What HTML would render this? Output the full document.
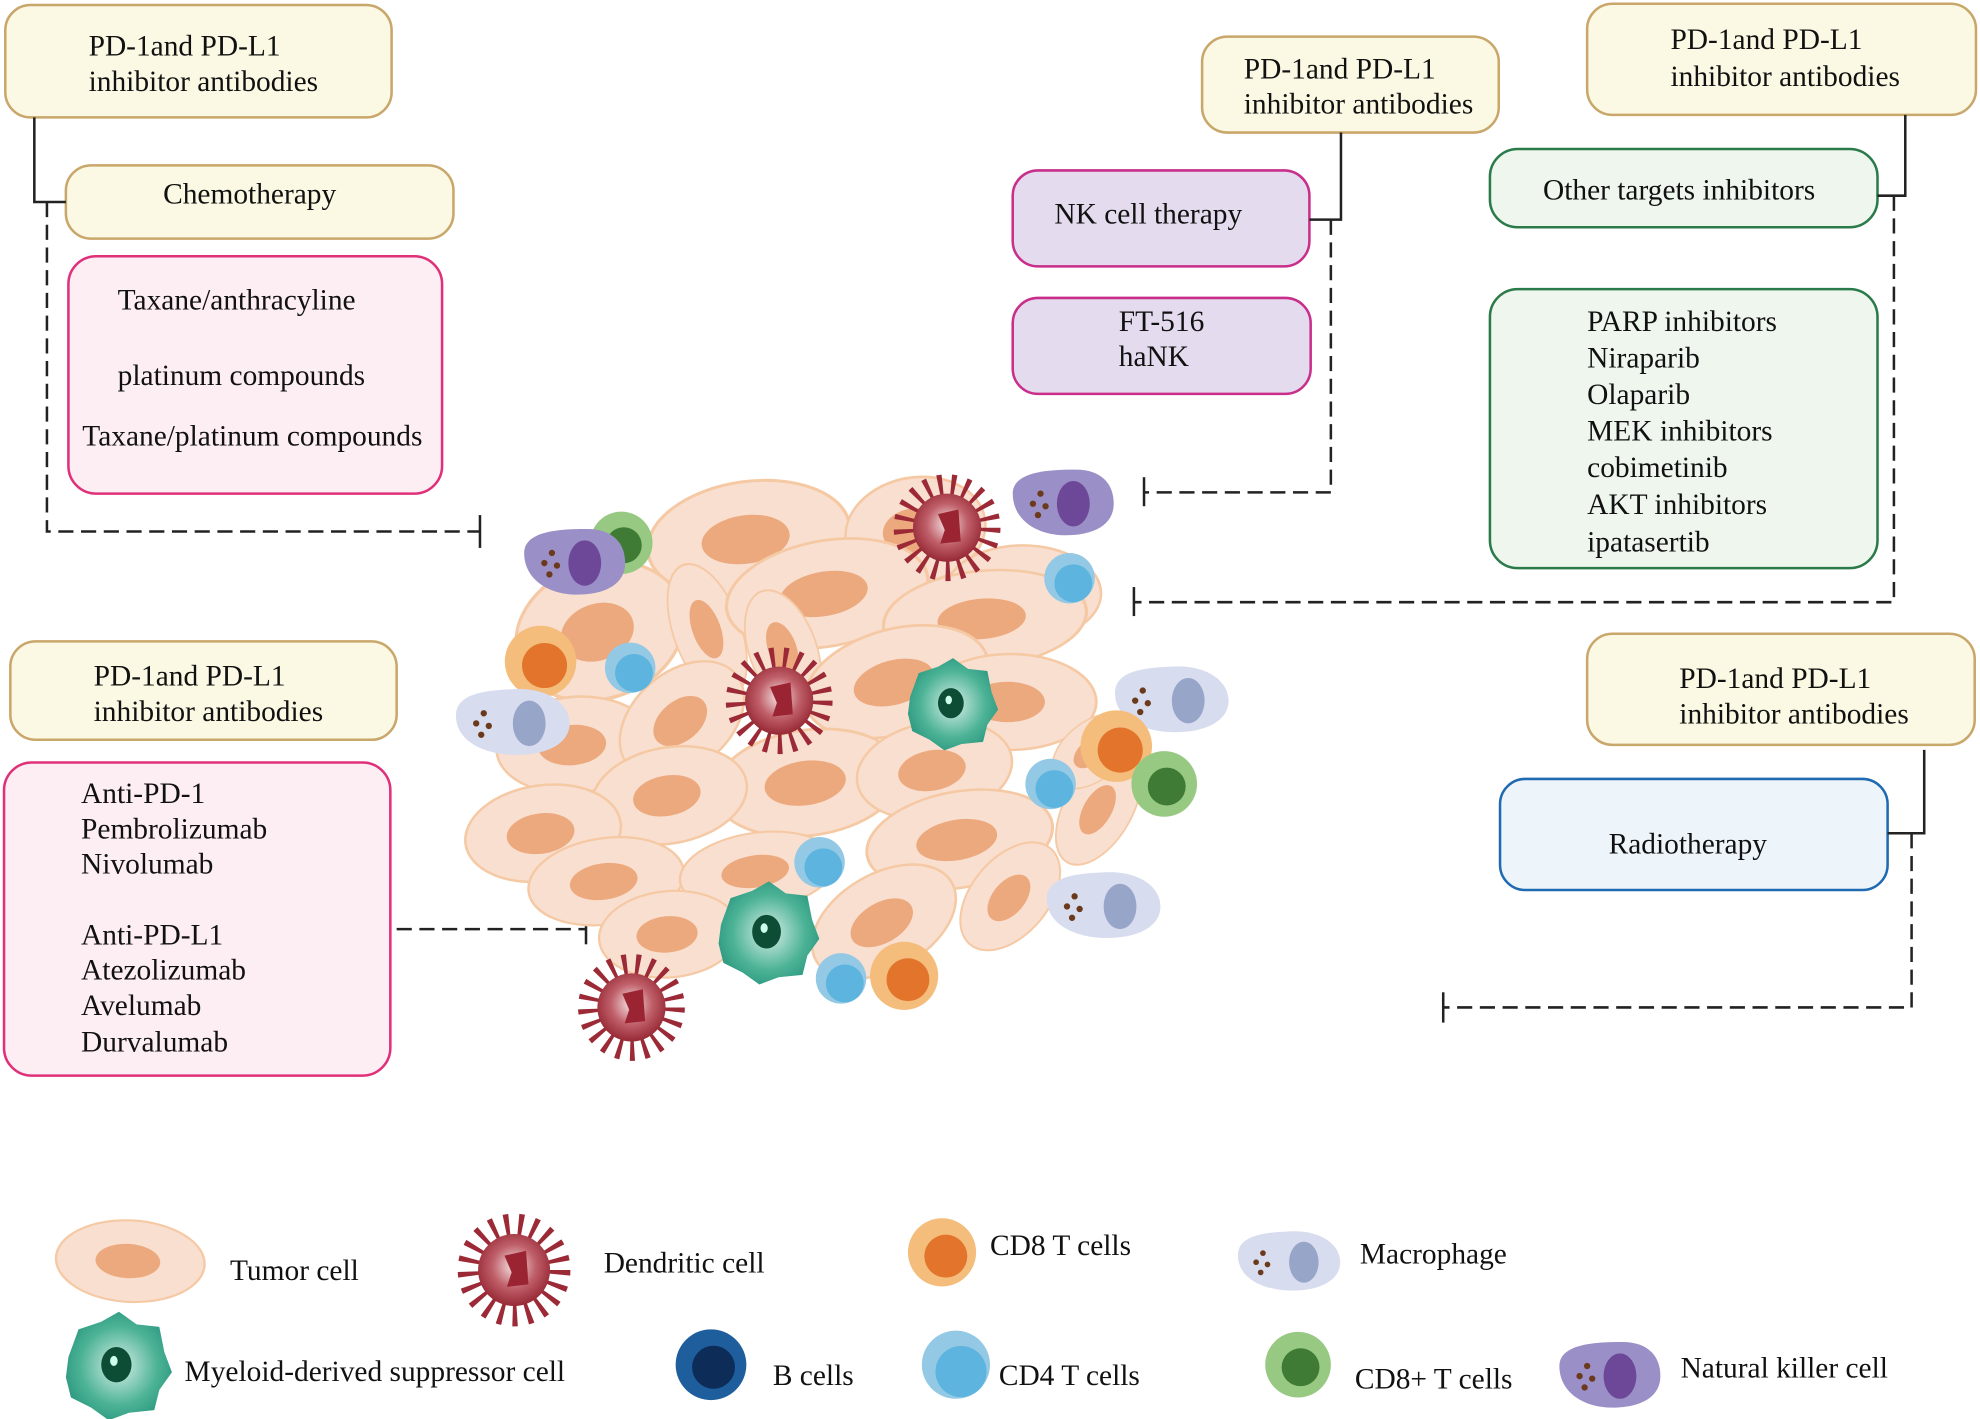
<!DOCTYPE html>
<html><head><meta charset="utf-8"><style>
html,body{margin:0;padding:0;background:#fff;}
svg{display:block;}
text{font-family:"Liberation Serif",serif;font-size:23.3px;fill:#111;}
</style></head><body>
<svg width="1980" height="1419" viewBox="0 0 1568 1124" xmlns="http://www.w3.org/2000/svg">
<defs>
<radialGradient id="dg" cx="0.5" cy="0.45" r="0.6"><stop offset="0" stop-color="#f6e6e6"/><stop offset="0.5" stop-color="#c0606a"/><stop offset="1" stop-color="#8e1e2a"/></radialGradient>
<radialGradient id="mg" cx="0.5" cy="0.5" r="0.6"><stop offset="0" stop-color="#d8efe8"/><stop offset="0.6" stop-color="#4db396"/><stop offset="1" stop-color="#23917a"/></radialGradient>
<g id="tumor"><ellipse cx="0" cy="0" rx="62" ry="38" fill="#f9dfd0" stroke="#f5c9a4" stroke-width="2"/><ellipse cx="-2" cy="0" rx="27" ry="16" fill="#eda97e"/></g>
<g id="dend">
<circle r="30" fill="none" stroke="#9b2a36" stroke-width="34" stroke-dasharray="3 6"/>
<circle r="30" fill="url(#dg)"/>
<path d="M-8,-12 L10,-16 L12,12 L-6,14 L-2,2 Z" fill="#9b2432"/>
</g>
<g id="mdsc"><path d="M-38,-6 L-30,-28 L-12,-34 L2,-42 L16,-32 L34,-30 L38,-10 L44,6 L34,20 L30,36 L10,38 L-6,44 L-20,34 L-36,26 L-40,10 Z" fill="url(#mg)"/><ellipse rx="12" ry="14" fill="#0d4d36"/><ellipse cx="-2" cy="-3" rx="3" ry="4" fill="#cfe"/></g>
<g id="cd8"><circle r="27" fill="#f4bd7c"/><circle cx="3" cy="3" r="17" fill="#e2742c"/></g>
<g id="cd4"><circle r="20" fill="#93c9e4"/><circle cx="3" cy="4" r="15" fill="#5db4df"/></g>
<g id="bc"><circle r="28" fill="#1e5e9c"/><circle cx="2" cy="2" r="17" fill="#0d2c58"/></g>
<g id="cd8p"><circle r="26" fill="#97c983"/><circle cx="2" cy="2" r="15" fill="#3f7b34"/></g>
<g id="mac"><path d="M-44,-4 C-44,-22 -20,-24 0,-25 C28,-27 46,-14 46,2 C46,18 28,27 4,27 C-22,27 -44,16 -44,-4Z" fill="#d8dcef"/><ellipse cx="14" cy="2" rx="13" ry="18" fill="#97a5c9"/><circle cx="-22" cy="-6" r="2.5" fill="#6b3a1c"/><circle cx="-28" cy="2" r="2.5" fill="#6b3a1c"/><circle cx="-18" cy="4" r="2.5" fill="#6b3a1c"/><circle cx="-24" cy="11" r="2.5" fill="#6b3a1c"/></g>
<g id="nk"><path d="M-40,-6 C-40,-24 -10,-25 10,-25 C30,-25 40,-14 40,2 C40,20 22,27 2,27 C-22,27 -40,14 -40,-6Z" fill="#9a8fc6"/><ellipse cx="8" cy="2" rx="13" ry="18" fill="#6e4898"/><circle cx="-18" cy="-6" r="2.5" fill="#6b3a1c"/><circle cx="-24" cy="2" r="2.5" fill="#6b3a1c"/><circle cx="-14" cy="4" r="2.5" fill="#6b3a1c"/><circle cx="-20" cy="11" r="2.5" fill="#6b3a1c"/></g>
</defs>

<g stroke-width="2">
<rect x="4" y="4" width="306" height="89" rx="20" fill="#fbf9e3" stroke="#c9a66a"/>
<rect x="52" y="131" width="307" height="58" rx="20" fill="#fbf9e3" stroke="#c9a66a"/>
<rect x="54" y="203" width="296" height="188" rx="22" fill="#fdeef4" stroke="#e0307a"/>
<rect x="952" y="29" width="235" height="76" rx="20" fill="#fbf9e3" stroke="#c9a66a"/>
<rect x="802" y="135" width="235" height="76" rx="20" fill="#e4dcee" stroke="#c82e8a"/>
<rect x="802" y="236" width="236" height="76" rx="20" fill="#e4dcee" stroke="#c82e8a"/>
<rect x="1257" y="3" width="308" height="88" rx="20" fill="#fbf9e3" stroke="#c9a66a"/>
<rect x="1180" y="118" width="307" height="62" rx="22" fill="#eef6ee" stroke="#2a7a4a"/>
<rect x="1180" y="229" width="307" height="221" rx="22" fill="#eef6ee" stroke="#2a7a4a"/>
<rect x="1257" y="502" width="307" height="88" rx="20" fill="#fbf9e3" stroke="#c9a66a"/>
<rect x="1188" y="617" width="307" height="88" rx="20" fill="#eef5fa" stroke="#1f6ab0"/>
<rect x="8" y="508" width="306" height="78" rx="20" fill="#fbf9e3" stroke="#c9a66a"/>
<rect x="3" y="604" width="306" height="248" rx="22" fill="#fdeef4" stroke="#e0307a"/>
</g>

<g stroke="#222" stroke-width="2" fill="none">
<path d="M27,93 V160 H52"/>
<path d="M37,160 V421 H380" stroke-dasharray="12 6"/><path d="M380,408 V434"/>
<path d="M1062,105 V174 H1037"/>
<path d="M1054,174 V390 H906" stroke-dasharray="12 6"/><path d="M906,378 V401"/>
<path d="M1509,91 V155 H1487"/>
<path d="M1500,155 V477 H898" stroke-dasharray="12 6"/><path d="M898,465 V488"/>
<path d="M1524,594 V660 H1495"/>
<path d="M1514,660 V798 H1143" stroke-dasharray="12 6"/><path d="M1143,786 V810"/>
<path d="M314,736 H464" stroke-dasharray="12 6"/><path d="M464,722 V748"/>
</g>

<text x="70" y="44">PD-1and PD-L1</text><text x="70" y="72">inhibitor antibodies</text>
<text x="129" y="161">Chemotherapy</text>
<text x="93" y="245">Taxane/anthracyline</text>
<text x="93" y="305">platinum compounds</text>
<text x="65" y="353">Taxane/platinum compounds</text>
<text x="985" y="62">PD-1and PD-L1</text><text x="985" y="90">inhibitor antibodies</text>
<text x="835" y="177">NK cell therapy</text>
<text x="886" y="262">FT-516</text><text x="886" y="290">haNK</text>
<text x="1323" y="39">PD-1and PD-L1</text><text x="1323" y="68">inhibitor antibodies</text>
<text x="1222" y="158">Other targets inhibitors</text>
<text x="1257" y="262">PARP inhibitors</text>
<text x="1257" y="291">Niraparib</text>
<text x="1257" y="320">Olaparib</text>
<text x="1257" y="349">MEK inhibitors</text>
<text x="1257" y="378">cobimetinib</text>
<text x="1257" y="407">AKT inhibitors</text>
<text x="1257" y="437">ipatasertib</text>
<text x="1330" y="545">PD-1and PD-L1</text><text x="1330" y="573">inhibitor antibodies</text>
<text x="1274" y="676">Radiotherapy</text>
<text x="74" y="543">PD-1and PD-L1</text><text x="74" y="571">inhibitor antibodies</text>
<text x="64" y="636">Anti-PD-1</text>
<text x="64" y="664">Pembrolizumab</text>
<text x="64" y="692">Nivolumab</text>
<text x="64" y="748">Anti-PD-L1</text>
<text x="64" y="776">Atezolizumab</text>
<text x="64" y="804">Avelumab</text>
<text x="64" y="833">Durvalumab</text>

<use href="#tumor" transform="translate(593,427) rotate(-8) scale(1.3,1.2)"/>
<use href="#tumor" transform="translate(725,420) rotate(-10) scale(0.9,1.1)"/>
<use href="#tumor" transform="translate(810,470) scale(1,1)"/>
<use href="#tumor" transform="translate(475,500) rotate(-20) scale(1.1,1.4)"/>
<use href="#tumor" transform="translate(560,500) rotate(70) scale(0.9,0.7)"/>
<use href="#tumor" transform="translate(655,470) rotate(-10) scale(1.3,1.1)"/>
<use href="#tumor" transform="translate(780,490) rotate(-5) scale(1.3,1)"/>
<use href="#tumor" transform="translate(620,515) rotate(70) scale(0.8,0.7)"/>
<use href="#tumor" transform="translate(710,540) rotate(-15) scale(1.2,1.1)"/>
<use href="#tumor" transform="translate(800,556) rotate(0) scale(1.1,1)"/>
<use href="#tumor" transform="translate(455,590) rotate(-5) scale(1,1)"/>
<use href="#tumor" transform="translate(540,570) rotate(-40) scale(0.9,1)"/>
<use href="#tumor" transform="translate(640,620) rotate(-8) scale(1.2,1.1)"/>
<use href="#tumor" transform="translate(740,610) rotate(-10) scale(1,1)"/>
<use href="#tumor" transform="translate(530,630) rotate(-10) scale(1,1)"/>
<use href="#tumor" transform="translate(430,660) rotate(-8) scale(1,1)"/>
<use href="#tumor" transform="translate(760,665) rotate(-10) scale(1.2,1)"/>
<use href="#tumor" transform="translate(870,640) rotate(-60) scale(0.8,0.7)"/>
<use href="#tumor" transform="translate(480,698) rotate(-8) scale(1,0.9)"/>
<use href="#tumor" transform="translate(600,690) rotate(-8) scale(1,0.8)"/>
<use href="#tumor" transform="translate(700,730) rotate(-30) scale(1,1)"/>
<use href="#tumor" transform="translate(530,740) rotate(-5) scale(0.9,0.9)"/>
<use href="#tumor" transform="translate(800,710) rotate(-50) scale(0.8,0.8)"/>
<use href="#tumor" transform="translate(865,595) rotate(-40) scale(0.6,0.6)"/>

<use href="#cd8p" transform="translate(492,430) scale(0.95)"/>
<use href="#nk" transform="translate(455,444)"/>
<use href="#dend" transform="translate(750,418) scale(0.9)"/>
<use href="#nk" transform="translate(842,397)"/>
<use href="#cd4" transform="translate(847,458)"/>
<use href="#cd8" transform="translate(428,524) scale(1.05)"/>
<use href="#cd4" transform="translate(499,529)"/>
<use href="#dend" transform="translate(617,555) scale(0.9)"/>
<use href="#mdsc" transform="translate(753,557) scale(0.85)"/>
<use href="#mac" transform="translate(405,571)"/>
<use href="#mac" transform="translate(927,553)"/>
<use href="#cd8" transform="translate(884,591) scale(1.05)"/>
<use href="#cd8p" transform="translate(922,621)"/>
<use href="#cd4" transform="translate(832,621)"/>
<use href="#cd4" transform="translate(649,683)"/>
<use href="#mac" transform="translate(873,716)"/>
<use href="#mdsc" transform="translate(607,738) scale(0.95)"/>
<use href="#cd4" transform="translate(666,775)"/>
<use href="#cd8" transform="translate(716,773)"/>
<use href="#dend" transform="translate(500,798) scale(0.9)"/>

<use href="#tumor" transform="translate(103,999) rotate(3) scale(0.95,0.85)"/>
<text x="182" y="1014">Tumor cell</text>
<use href="#dend" transform="translate(407,1006) scale(0.95)"/>
<text x="478" y="1008">Dendritic cell</text>
<use href="#cd8" transform="translate(746,992)"/>
<text x="784" y="994">CD8 T cells</text>
<use href="#mac" transform="translate(1020,998) scale(0.9)"/>
<text x="1077" y="1001">Macrophage</text>
<use href="#mdsc" transform="translate(92,1081)"/>
<text x="146" y="1094">Myeloid-derived suppressor cell</text>
<use href="#bc" transform="translate(563,1081)"/>
<text x="612" y="1097">B cells</text>
<use href="#cd4" transform="translate(757,1081) scale(1.35)"/>
<text x="791" y="1097">CD4 T cells</text>
<use href="#cd8p" transform="translate(1028,1081)"/>
<text x="1073" y="1100">CD8+ T cells</text>
<use href="#nk" transform="translate(1275,1088)"/>
<text x="1331" y="1091">Natural killer cell</text>
</svg>
</body></html>
